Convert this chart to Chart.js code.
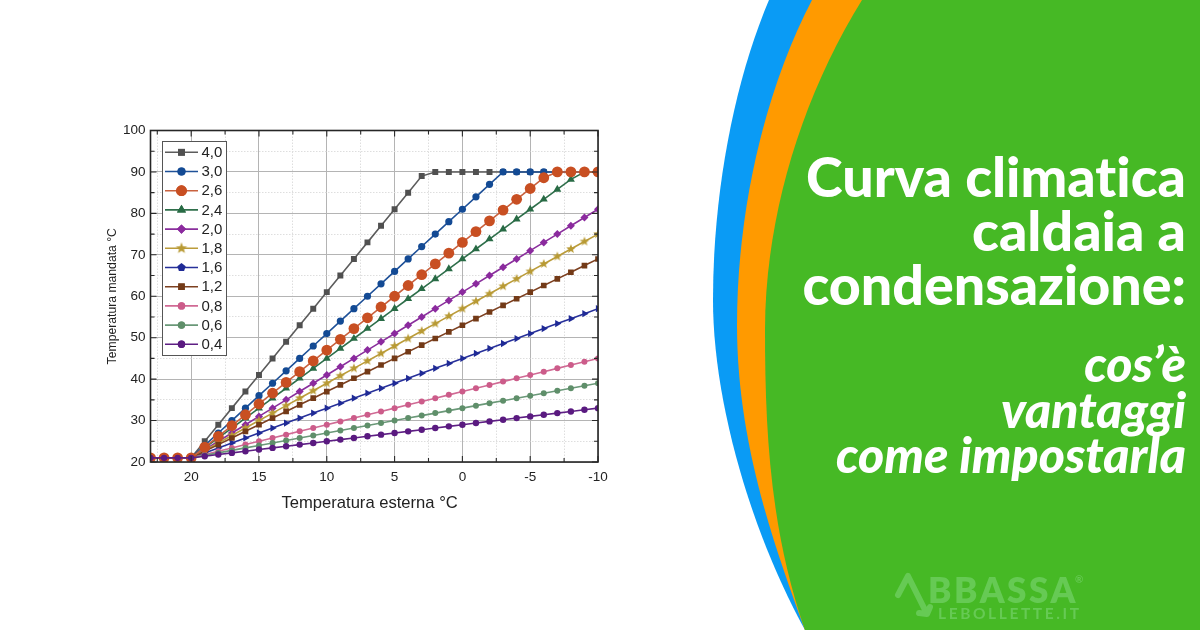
<!DOCTYPE html>
<html><head><meta charset="utf-8">
<script src="https://cdn.jsdelivr.net/npm/chart.js@4"></script>
<style>
html,body{margin:0;padding:0;background:#fff;width:1200px;height:630px;overflow:hidden}
#c{position:absolute;left:0;top:0}
#deco{position:absolute;left:0;top:0}
.t{position:absolute;right:14px;color:#fff;white-space:nowrap;line-height:1;text-align:right;font-variant-ligatures:none}
.h{font:900 55.5px Lato,"Open Sans",sans-serif;font-variant-ligatures:none}
.s{font:italic 900 50px Lato,"Open Sans",sans-serif;font-variant-ligatures:none}
.logo{position:absolute;color:#66ca54;white-space:nowrap;line-height:1}
</style></head><body>
<canvas id="c" width="720" height="630"></canvas>
<svg id="deco" width="1200" height="630" viewBox="0 0 1200 630">
<path fill="#0a9bf5" d="M769,0 C735,80 713,190 713,300 C713,400 750,530 805,630 L1200,630 L1200,0Z"/>
<path fill="#ff9a00" d="M812,0 C765,90 737,210 737,325 C737,440 772,540 805,630 L1200,630 L1200,0Z"/>
<path fill="#46b925" d="M862,0 C800,100 765,220 765,330 C765,430 770,530 805,630 L1200,630 L1200,0Z"/>
<path fill="none" stroke="#66ca54" stroke-width="6" stroke-linecap="round" stroke-linejoin="round" d="M898,595 L908,576 L926,612 M919,613 L927,614 L930,607"/>
</svg>
<div class="t h" style="top:142px">Curva climatica</div>
<div class="t h" style="top:196px">caldaia a</div>
<div class="t h" style="top:250px">condensazione:</div>
<div class="t s" style="top:333px">cos’è</div>
<div class="t s" style="top:379px">vantaggi</div>
<div class="t s" style="top:424px">come impostarla</div>
<div class="logo" style="left:928px;top:568px;font:800 35px Lato,sans-serif;letter-spacing:2.6px">BBASSA</div>
<div class="logo" style="left:1075px;top:573px;font:700 10px Lato,sans-serif">®</div>
<div class="logo" style="left:938px;top:604px;font:700 15.5px Lato,sans-serif;letter-spacing:2.6px">LEBOLLETTE.IT</div>
<script>
const xValues=[23,22,21,20,19,18,17,16,15,14,13,12,11,10,9,8,7,6,5,4,3,2,1,0,-1,-2,-3,-4,-5,-6,-7,-8,-9,-10];
const yTickStep=5, xTickStep=2.5;
const curve40=[21,21,21,21,25,29,33,37,41,45,49,53,57,61,65,69,73,77,81,85,89,90,90,90,90,90,90,90,90,90,90,90,90,90];
const curve30=[21,21,21,21,24,27,30,33,36,39,42,45,48,51,54,57,60,63,66,69,72,75,78,81,84,87,90,90,90,90,90,90,90,90];
const curve26=[21,21,21,21,23.6,26.2,28.8,31.4,34,36.6,39.2,41.8,44.4,47,49.6,52.2,54.8,57.4,60,62.6,65.2,67.8,70.4,73,75.6,78.2,80.8,83.4,86,88.6,90,90,90,90];
const curve24=[21,21,21,21,23.4,25.8,28.2,30.6,33,35.4,37.8,40.2,42.6,45,47.4,49.8,52.2,54.6,57,59.4,61.8,64.2,66.6,69,71.4,73.8,76.2,78.6,81,83.4,85.8,88.2,90,90];
const curve20=[21,21,21,21,23,25,27,29,31,33,35,37,39,41,43,45,47,49,51,53,55,57,59,61,63,65,67,69,71,73,75,77,79,81];
const curve18=[21,21,21,21,22.8,24.6,26.4,28.2,30,31.8,33.6,35.4,37.2,39,40.8,42.6,44.4,46.2,48,49.8,51.6,53.4,55.2,57,58.8,60.6,62.4,64.2,66,67.8,69.6,71.4,73.2,75];
const curve16=[21,21,21,21,22.2,23.4,24.6,25.8,27,28.2,29.4,30.6,31.8,33,34.2,35.4,36.6,37.8,39,40.2,41.4,42.6,43.8,45,46.2,47.4,48.6,49.8,51,52.2,53.4,54.6,55.8,57];
const curve12=[21,21,21,21,22.6,24.2,25.8,27.4,29,30.6,32.2,33.8,35.4,37,38.6,40.2,41.8,43.4,45,46.6,48.2,49.8,51.4,53,54.6,56.2,57.8,59.4,61,62.6,64.2,65.8,67.4,69];
const curve08=[21,21,21,21,21.8,22.6,23.4,24.2,25,25.8,26.6,27.4,28.2,29,29.8,30.6,31.4,32.2,33,33.8,34.6,35.4,36.2,37,37.8,38.6,39.4,40.2,41,41.8,42.6,43.4,44.2,45];
const curve06=[21,21,21,21,21.6,22.2,22.8,23.4,24,24.6,25.2,25.8,26.4,27,27.6,28.2,28.8,29.4,30,30.6,31.2,31.8,32.4,33,33.6,34.2,34.8,35.4,36,36.6,37.2,37.8,38.4,39];
const curve04=[21,21,21,21,21.4,21.8,22.2,22.6,23,23.4,23.8,24.2,24.6,25,25.4,25.8,26.2,26.6,27,27.4,27.8,28.2,28.6,29,29.4,29.8,30.2,30.6,31,31.4,31.8,32.2,32.6,33];
const seriesLabels=['4,0','3,0','2,6','2,4','2,0','1,8','1,6','1,2','0,8','0,6','0,4'];

function starCanvas(r,color){
  const s=Math.ceil(r*2+2),c=document.createElement('canvas');c.width=c.height=s;
  const g=c.getContext('2d');g.fillStyle=color;g.beginPath();
  for(let i=0;i<10;i++){const a=-Math.PI/2+i*Math.PI/5,q=i%2?r*0.42:r;
    g.lineTo(s/2+q*Math.cos(a),s/2+q*Math.sin(a));}
  g.closePath();g.fill();return c;
}
const GOLD='#b89a34';
const ds=(i,data,color,marker,style,radius,order,extra)=>Object.assign({
  label:seriesLabels[i],data:xValues.map((x,k)=>({x,y:data[k]})),
  borderColor:color,backgroundColor:marker,pointBackgroundColor:marker,pointBorderColor:marker,
  pointBorderWidth:0,pointStyle:style,pointRadius:radius,borderWidth:1.6,order,tension:0},extra||{});
const datasets=[
 ds(0,curve40,'#5c5c5c','#505050','rect',4.2,10),
 ds(1,curve30,'#1f5198','#134a94','circle',3.6,9),
 ds(2,curve26,'#c9623f','#c84f22','circle',5.4,1),
 ds(3,curve24,'#2f6f4b','#286b45','triangle',4.6,8),
 ds(4,curve20,'#8a2f9c','#8b2a9e','rectRot',4,7),
 ds(5,curve18,'#bb9c3a',GOLD,starCanvas(5,GOLD),4.5,6),
 ds(6,curve16,'#27309a','#1f2a96','triangle',4.2,5,{pointRotation:90}),
 ds(7,curve12,'#7d4020','#733a17','rect',4,4),
 ds(8,curve08,'#d06a94','#cc5c8a','circle',3,3),
 ds(9,curve06,'#6a9878','#5f8f6a','circle',3,2),
 ds(10,curve04,'#5e1f84','#5a1a80','circle',3.2,0)
];
const legendStyles=[null,null,null,null,null,starCanvas(6,GOLD),'pentagon',null,null,null,null];
const legendRadii=[4.8,4,5.4,5.2,4.6,6,4,4.6,3.7,3.7,3.7];

const frameAndLegend={id:'frameAndLegend',
 afterDatasetsDraw(chart){
  const g=chart.ctx,a=chart.chartArea,X=chart.scales.x,Y=chart.scales.y;
  g.save();
  g.strokeStyle='#2a2a2a';g.lineWidth=1.1;g.beginPath();
  X.ticks.forEach(t=>{const p=X.getPixelForValue(t.value),l=t.value%5===0?6:4;
    g.moveTo(p,a.top);g.lineTo(p,a.top+l);g.moveTo(p,a.bottom);g.lineTo(p,a.bottom-l);});
  Y.ticks.forEach(t=>{const p=Y.getPixelForValue(t.value),l=t.value%10===0?6:4;
    g.moveTo(a.left,p);g.lineTo(a.left+l,p);g.moveTo(a.right,p);g.lineTo(a.right-l,p);});
  g.stroke();
  g.strokeStyle='#262626';g.lineWidth=1.6;g.strokeRect(a.left,a.top,a.right-a.left,a.bottom-a.top);
  const lx=162.5,ly=141.5,lw=64,lh=214;
  g.fillStyle='#fff';g.fillRect(lx,ly,lw,lh);
  g.strokeStyle='#555';g.lineWidth=1;g.strokeRect(lx,ly,lw,lh);
  g.font='15px "Liberation Sans"';g.textBaseline='middle';g.textAlign='left';
  chart.data.datasets.forEach((d,i)=>{
    const y=152.3+i*19.2;
    g.strokeStyle=d.borderColor;g.lineWidth=1.6;g.beginPath();g.moveTo(165,y);g.lineTo(198,y);g.stroke();
    g.fillStyle=d.pointBackgroundColor;
    const st=legendStyles[i]||d.pointStyle;
    if(st==='pentagon'){
      g.beginPath();for(let k=0;k<5;k++){const an=-Math.PI/2+k*2*Math.PI/5;g.lineTo(181.5+4.4*Math.cos(an),y+4.4*Math.sin(an));}
      g.closePath();g.fill();
    }else{
      Chart.helpers.drawPoint(g,{pointStyle:st,rotation:0,radius:legendRadii[i],borderWidth:0},181.5,y);
      g.fill();
    }
    g.fillStyle='#222';g.fillText(d.label,201.5,y+0.5);
  });
  g.restore();
 }
};
Chart.defaults.font.family='"Liberation Sans"';
new Chart(document.getElementById('c'),{
 type:'line',
 data:{datasets},
 plugins:[frameAndLegend],
 options:{
  responsive:false,animation:false,devicePixelRatio:1,
  layout:{padding:{left:90,top:130.5,right:122,bottom:108}},
  plugins:{legend:{display:false},tooltip:{enabled:false}},
  scales:{
   x:{type:'linear',reverse:true,min:-10,max:23,
    afterFit(s){s.height=60;},
    border:{display:false,dash:c=>c.tick&&c.tick.value%5===0?[]:[1.5,1.5]},
    grid:{drawTicks:false,lineWidth:1,color:c=>c.tick&&c.tick.value%5===0?'#b4b4b4':'#dedede'},
    ticks:{stepSize:xTickStep,includeBounds:false,autoSkip:false,maxRotation:0,padding:7,color:'#222',font:{size:13.5},
      callback:v=>v%5===0?String(v):''},
    title:{display:true,text:'Temperatura esterna °C  ',color:'#222',font:{size:16.6},padding:{top:8,bottom:9}}},
   y:{min:20,max:100,
    afterFit(s){s.width=60.5;},
    border:{display:false,dash:c=>c.tick&&c.tick.value%10===0?[]:[1.5,1.5]},
    grid:{drawTicks:false,lineWidth:1,color:c=>c.tick&&c.tick.value%10===0?'#b4b4b4':'#dedede'},
    ticks:{stepSize:yTickStep,autoSkip:false,padding:5,color:'#222',font:{size:13.5},
      callback:v=>v%10===0?String(v):''},
    title:{display:true,text:'Temperatura mandata °C',color:'#222',font:{size:12.2},padding:{top:15.5,bottom:0}}}
  }
 }
});
</script>
</body></html>
